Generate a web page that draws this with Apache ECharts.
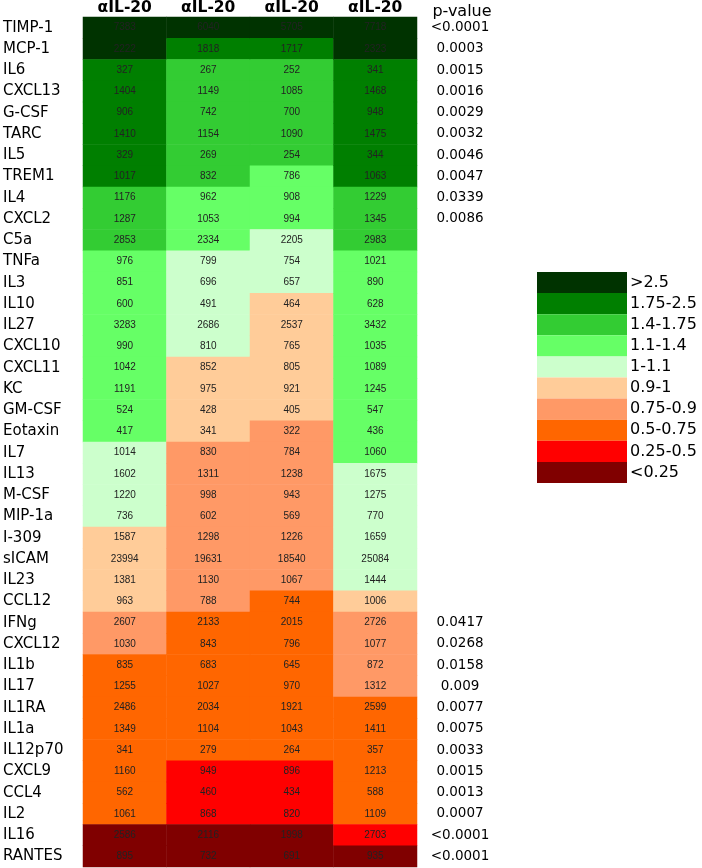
<!DOCTYPE html>
<html><head><meta charset="utf-8">
<script src="https://cdn.jsdelivr.net/npm/echarts@6/dist/echarts.min.js"></script>
<style>html,body{margin:0;padding:0;background:#fff}#c{width:702px;height:868px}</style>
</head><body><div id="c"></div>
<script>
const rows = ['TIMP-1','MCP-1','IL6','CXCL13','G-CSF','TARC','IL5','TREM1','IL4','CXCL2','C5a','TNFa','IL3','IL10','IL27','CXCL10','CXCL11','KC','GM-CSF','Eotaxin','IL7','IL13','M-CSF','MIP-1a','I-309','sICAM','IL23','CCL12','IFNg','CXCL12','IL1b','IL17','IL1RA','IL1a','IL12p70','CXCL9','CCL4','IL2','IL16','RANTES'];
const columns = ['\u03b1IL-20','\u03b1IL-20','\u03b1IL-20','\u03b1IL-20'];
const col1 = [7383,2222,327,1404,906,1410,329,1017,1176,1287,2853,976,851,600,3283,990,1042,1191,524,417,1014,1602,1220,736,1587,23994,1381,963,2607,1030,835,1255,2486,1349,341,1160,562,1061,2586,895];
const col2 = [6040,1818,267,1149,742,1154,269,832,962,1053,2334,799,696,491,2686,810,852,975,428,341,830,1311,998,602,1298,19631,1130,788,2133,843,683,1027,2034,1104,279,949,460,868,2116,732];
const col3 = [5705,1717,252,1085,700,1090,254,786,908,994,2205,754,657,464,2537,765,805,921,405,322,784,1238,943,569,1226,18540,1067,744,2015,796,645,970,1921,1043,264,896,434,820,1998,691];
const col4 = [7718,2323,341,1468,948,1475,344,1063,1229,1345,2983,1021,890,628,3432,1035,1089,1245,547,436,1060,1675,1275,770,1659,25084,1444,1006,2726,1077,872,1312,2599,1411,357,1213,588,1109,2703,935];
// fold-change class index per cell (0 = >2.5 ... 9 = <0.25)
const cls1 = [0,0,1,1,1,1,1,1,2,2,2,3,3,3,3,3,3,3,3,3,4,4,4,4,5,5,5,5,6,6,7,7,7,7,7,7,7,7,9,9];
const cls2 = [0,1,2,2,2,2,2,2,3,3,3,4,4,4,4,4,5,5,5,5,6,6,6,6,6,6,6,6,7,7,7,7,7,7,7,8,8,8,9,9];
const cls3 = [0,1,2,2,2,2,2,3,3,3,4,4,4,5,5,5,5,5,5,6,6,6,6,6,6,6,6,7,7,7,7,7,7,7,7,8,8,8,9,9];
const cls4 = [0,0,1,1,1,1,1,1,2,2,2,3,3,3,3,3,3,3,3,3,3,4,4,4,4,4,4,5,6,6,6,6,7,7,7,7,7,7,8,9];
const pValues = ['<0.0001','0.0003','0.0015','0.0016','0.0029','0.0032','0.0046','0.0047','0.0339','0.0086','','','','','','','','','','','','','','','','','','','0.0417','0.0268','0.0158','0.009','0.0077','0.0075','0.0033','0.0015','0.0013','0.0007','<0.0001','<0.0001'];
const legendLabels = ['>2.5','1.75-2.5','1.4-1.75','1.1-1.4','1-1.1','0.9-1','0.75-0.9','0.5-0.75','0.25-0.5','<0.25'];
const legendColors = ['#003300','#007f00','#33cc33','#66ff66','#ccffcc','#ffcc99','#ff9966','#ff6600','#ff0000','#800000'];

const vals = [col1,col2,col3,col4];
const clss = [cls1,cls2,cls3,cls4];
const data = [];
for (let c = 0; c < 4; c++) for (let r = 0; r < rows.length; r++) data.push([c, r, vals[c][r], clss[c][r]]);

const font = 'DejaVu Sans';
const chart = echarts.init(document.getElementById('c'));
chart.setOption({
  animation: false,
  grid: {left: 82, right: 285, top: 17, bottom: 1},
  xAxis: {type: 'category', position: 'top', data: columns,
    axisLine: {show: false}, axisTick: {show: false}, splitLine: {show: false},
    axisLabel: {fontFamily: font, fontWeight: 'bold', fontSize: 15.5, color: '#000', margin: 1}},
  yAxis: [
    {type: 'category', data: rows, inverse: true,
      axisLine: {show: false}, axisTick: {show: false},
      axisLabel: {fontFamily: font, fontSize: 15, color: '#000', align: 'left', margin: 80}},
    {type: 'category', data: pValues, inverse: true, position: 'right',
      axisLine: {show: false}, axisTick: {show: false},
      axisLabel: {fontFamily: font, fontSize: 13.5, color: '#000', align: 'center', margin: 43}}
  ],
  title: {text: 'p-value', left: 457, textAlign: 'center', top: -1,
    textStyle: {fontFamily: font, fontSize: 16, fontWeight: 'normal', color: '#000'}},
  visualMap: {type: 'piecewise', dimension: 3, orient: 'vertical', inverse: true, align: 'left',
    left: 537, top: 272, itemWidth: 90, itemHeight: 21.1, itemGap: 0, itemSymbol: 'rect',
    textGap: 3, hoverLink: false, selectedMode: false, padding: 0,
    textStyle: {fontFamily: font, fontSize: 16, color: '#000'},
    pieces: legendLabels.map((l, i) => ({value: i, label: l, color: legendColors[i]}))},
  series: [{type: 'heatmap', data: data,
    label: {show: true, formatter: p => p.value[2], fontFamily: 'Liberation Sans', fontSize: 10, color: '#222'},
    emphasis: {disabled: true}}]
});
</script></body></html>
